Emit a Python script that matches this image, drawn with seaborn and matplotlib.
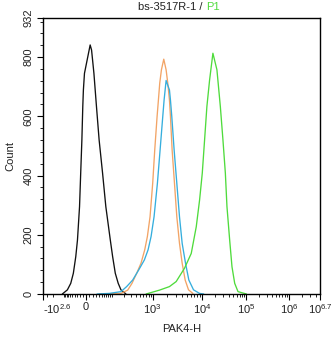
import numpy as np
import pandas as pd
import matplotlib
matplotlib.use("Agg")
import matplotlib.pyplot as plt
import seaborn as sns
from matplotlib.ticker import FixedLocator, NullFormatter, FixedFormatter

# ---- data ----
black_x = [-109, -75, -57, -45, -35, -28.5, -21, -17, -13, -10, -8, -4.5, 12, 16, 19, 23, 31, 40,
           53, 67, 90, 104, 122, 145, 170, 226]
black_y = [0, 14, 36, 70, 126, 182, 295, 408, 520, 633, 689, 745, 841, 824, 790, 745, 633, 520,
           408, 295, 182, 126, 70, 36, 14, 0]

orange_x = [40, 170, 249, 317, 412, 524, 643, 745, 864, 1000, 1100, 1228, 1307, 1391, 1505, 1680,
            1874, 2027, 2192, 2297, 2485, 2773, 3094, 3507, 3976, 4577, 5353, 6561]
orange_y = [0, 2, 13, 36, 70, 104, 149, 194, 261, 374, 486, 599, 655, 712, 757, 793,
            757, 712, 655, 599, 486, 374, 261, 171, 104, 47, 14, 2]

blue_x = [33, 84, 170, 235, 329, 460, 631, 774, 914, 1066, 1247, 1414, 1602, 1706, 1874, 2192,
          2297, 2446, 2730, 3094, 3507, 3976, 4648, 5436, 6770, 8978, 11000]
blue_y = [0, 2, 8, 25, 47, 81, 115, 149, 194, 261, 374, 486, 599, 655, 721, 689,
          655, 599, 486, 374, 261, 171, 104, 47, 14, 2, 0]

green_x = [694, 1370, 2192, 3003, 4436, 6080, 7686, 8978, 10210, 11500, 12960, 14910, 17690,
           21770, 25970, 29720, 33650, 36560, 42060, 47390, 54530, 64700, 100000]
green_y = [0, 13, 25, 42, 87, 137, 227, 317, 408, 520, 633, 723, 813,
           757, 633, 520, 408, 295, 182, 92, 36, 8, 0]

series_names = ["black", "orange", "blue", "green"]
series_colors = ["#111111", "#F2A466", "#35AEDD", "#4FDB3C"]

x_tick_values = [-10 ** 2.6, 0, 1e3, 1e4, 1e5, 1e6, 10 ** 6.7]
x_tick_labels = [r"-$\mathregular{10^{2.6}}$", "0", r"$\mathregular{10^{3}}$", r"$\mathregular{10^{4}}$",
                 r"$\mathregular{10^{5}}$", r"$\mathregular{10^{6}}$", r"$\mathregular{10^{6.7}}$"]
y_tick_values = [0, 200, 400, 600, 800, 932]

title_main = "bs-3517R-1 / "
title_gate = "P1"
x_label = "PAK4-H"
y_label = "Count"

# ---- build table ----
frames = []
for name, xs, ys in zip(series_names, [black_x, orange_x, blue_x, green_x],
                        [black_y, orange_y, blue_y, green_y]):
    frames.append(pd.DataFrame({"x": xs, "count": ys, "series": name}))
df = pd.concat(frames, ignore_index=True)

# ---- style ----
sns.set_style("ticks")
plt.rcParams["font.family"] = ["Liberation Sans", "DejaVu Sans"]
plt.rcParams["mathtext.fontset"] = "custom"
plt.rcParams["mathtext.rm"] = "Liberation Sans"
plt.rcParams["mathtext.it"] = "Liberation Sans:italic"
plt.rcParams["mathtext.bf"] = "Liberation Sans:bold"

fig = plt.figure(figsize=(3.34, 3.37), dpi=100)
ax = fig.add_axes([43 / 334, 1 - 294 / 337, (320 - 43) / 334, (294 - 18) / 337])

# biexponential-like display scale (logicle approximation)
A0 = 50.0
_knot_vals = np.array(x_tick_values)
_S = np.arcsinh(_knot_vals / A0)
_P = np.array([44.0, 86.7, 153.3, 202.3, 246.7, 289.0, 320.0])


def fwd(v):
    v = np.asarray(v, dtype=float)
    return np.interp(np.arcsinh(v / A0), _S, _P)


def inv(p):
    p = np.asarray(p, dtype=float)
    return A0 * np.sinh(np.interp(p, _P, _S))


ax.set_xscale("function", functions=(fwd, inv))

sns.lineplot(data=df, x="x", y="count", hue="series", hue_order=series_names,
             palette=dict(zip(series_names, series_colors)), linewidth=0.95,
             estimator=None, sort=False, legend=False, ax=ax)

ax.set_xlim(x_tick_values[0], x_tick_values[-1])
ax.set_ylim(0, 932)

# ticks
ax.xaxis.set_major_locator(FixedLocator(x_tick_values))
ax.xaxis.set_major_formatter(FixedFormatter(x_tick_labels))
minor = ([-300, -200, -100] + [-v for v in range(90, 0, -10)] + list(range(10, 100, 10))
         + list(range(100, 1000, 100)) + list(range(2000, 10000, 1000))
         + list(range(20000, 100000, 10000)) + list(range(200000, 1000000, 100000))
         + [2e6, 3e6, 4e6, 5e6])
ax.xaxis.set_minor_locator(FixedLocator(minor))
ax.xaxis.set_minor_formatter(NullFormatter())

ax.yaxis.set_major_locator(FixedLocator(y_tick_values))
ax.yaxis.set_minor_locator(FixedLocator(list(range(0, 932, 40))))
ax.yaxis.set_minor_formatter(NullFormatter())

ax.tick_params(axis="both", which="major", direction="out", length=4, width=0.8,
               labelsize=8, color="black", labelcolor="#222222", pad=2)
ax.tick_params(axis="both", which="minor", direction="out", length=2.5, width=0.6, color="black")
ax.tick_params(axis="y", which="major", pad=3)

fig.canvas.draw()
for lab in ax.get_yticklabels():
    lab.set_rotation(90)
    lab.set_va("center")
xlabs = ax.get_xticklabels()
xlabs[0].set_ha("left")

for sp in ax.spines.values():
    sp.set_visible(True)
    sp.set_linewidth(1.0)
    sp.set_color("black")

ax.set_xlabel(x_label, fontsize=8, color="#222222", labelpad=6)
ax.set_ylabel(y_label, fontsize=8, color="#222222", labelpad=6)

fig.text(206 / 334, 1 - 7 / 337, title_main, ha="right", va="center", fontsize=8, color="#222222")
fig.text(206 / 334, 1 - 7 / 337, title_gate, ha="left", va="center", fontsize=8, color="#4FDB3C")

fig.savefig("out.png", dpi=100)
